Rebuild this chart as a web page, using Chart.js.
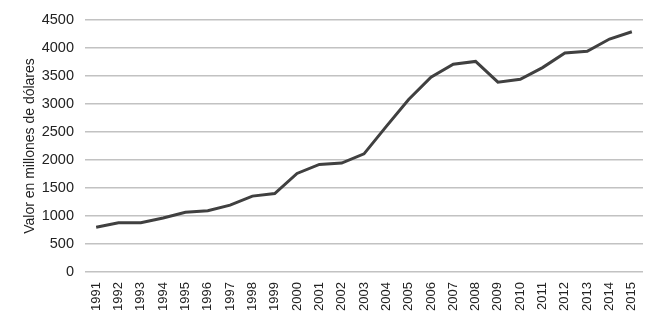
<!DOCTYPE html>
<html>
<head>
<meta charset="utf-8">
<script src="https://cdn.jsdelivr.net/npm/chart.js@4"></script>
<style>
  html, body { margin: 0; padding: 0; background: #ffffff; }
  #wrap { width: 664px; height: 319px; position: relative; }
</style>
</head>
<body>
<div id="wrap"><canvas id="LineChart"></canvas></div>
<script>
// years along the bottom
const years = ["1991","1992","1993","1994","1995","1996","1997","1998","1999","2000",
    "2001","2002","2003","2004","2005","2006","2007","2008","2009","2010",
    "2011","2012","2013","2014","2015"];
// value in millions of dollars
const valores = [800, 880, 880, 965, 1065, 1095, 1195, 1355, 1400, 1760,
    1920, 1945, 2110, 2600, 3080, 3480, 3710, 3760, 3390, 3440,
    3650, 3910, 3940, 4160, 4290];
const yTitle = "Valor en millones de dólares";

var canvasElement = document.getElementById("LineChart");
var config = {
    type : "line",
    data : {
        labels: years,
        datasets: [{
            label : "Valor",
            data : valores,
            borderColor : "#404040",
            backgroundColor : "#404040",
            borderWidth : 3,
            pointRadius : 0,
            tension : 0,
            fill : false
        }]
    },
    options: {
        responsive: true,
        maintainAspectRatio: false,
        animation: false,
        layout: { padding: { top: 20, right: 21, left: 18, bottom: 0 } },
        plugins: {
            legend: { display: false },
            tooltip: { enabled: false }
        },
        scales: {
            x: {
                offset: true,
                grid: { display: false, drawTicks: false },
                border: { display: false },
                ticks: {
                    minRotation: 90,
                    maxRotation: 90,
                    autoSkip: false,
                    padding: 10,
                    color: "#222",
                    font: { family: "Liberation Sans", size: 13 }
                },
                afterFit: function(s){ s.height = 47; }
            },
            y: {
                min: 0,
                max: 4500,
                grid: { color: "#c2c2c2", lineWidth: 1.5, drawTicks: false },
                border: { display: false },
                ticks: {
                    stepSize: 500,
                    padding: 11,
                    color: "#222",
                    font: { family: "Liberation Sans", size: 14.5 },
                    callback: function(v){ return String(v); }
                },
                title: {
                    display: true,
                    text: yTitle,
                    color: "#222",
                    font: { family: "Liberation Sans", size: 14 },
                    padding: { top: 4, bottom: 4 }
                },
                afterFit: function(s){ s.width = 67; }
            }
        }
    }
};
window.myLine = new Chart(canvasElement, config);
</script>
</body>
</html>
